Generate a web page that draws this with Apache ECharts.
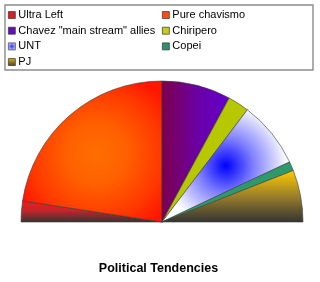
<!DOCTYPE html>
<html>
<head>
<meta charset="utf-8">
<script src="https://cdn.jsdelivr.net/npm/echarts@6/dist/echarts.min.js"></script>
<style>html,body{margin:0;padding:0;background:#fff;}#c{width:320px;height:282px;}</style>
</head>
<body>
<div id="c"></div>
<script>
var categories = ['Ultra Left', 'Pure chavismo', 'Chavez "main stream" allies', 'Chiripero', 'UNT', 'Copei', 'PJ'];
var values = [4.8, 45.2, 15.8, 4.9, 15.3, 2.1, 11.9];
var leftColumn = ['Ultra Left', 'Chavez "main stream" allies', 'UNT', 'PJ'];
var rightColumn = ['Pure chavismo', 'Chiripero', 'Copei'];
var titleText = 'Political Tendencies';

var G = echarts.graphic;
var fills = {
  'Ultra Left': new G.LinearGradient(0, 0, 0, 1, [{offset:0,color:'#e8201c'},{offset:0.45,color:'#c8242a'},{offset:1,color:'#333333'}]),
  'Pure chavismo': new G.RadialGradient(0.53, 0.52, 0.62, [{offset:0,color:'#ff6e00'},{offset:0.35,color:'#ff6000'},{offset:0.75,color:'#ff3800'},{offset:1,color:'#ff1600'}]),
  'Chavez "main stream" allies': new G.LinearGradient(0, 0, 1, 0, [{offset:0,color:'#7c004c'},{offset:0.55,color:'#6a00a8'},{offset:1,color:'#6400cc'}]),
  'Chiripero': '#b8c800',
  'UNT': new G.RadialGradient(0.5, 0.5, 0.55, [{offset:0,color:'#0000ff'},{offset:0.45,color:'#8080ff'},{offset:1,color:'#ffffff'}]),
  'Copei': '#2e9a6c',
  'PJ': new G.LinearGradient(0, 0, 0, 1, [{offset:0,color:'#ffcc00'},{offset:0.5,color:'#9a7e2a'},{offset:1,color:'#333333'}])
};
var iconColors = {
  'Ultra Left': '#d42026',
  'Pure chavismo': '#ff4a12',
  'Chavez "main stream" allies': '#6010b4',
  'Chiripero': '#c4cc22',
  'UNT': new G.RadialGradient(0.5, 0.5, 0.6, [{offset:0,color:'#3030ff'},{offset:1,color:'#e0e4ff'}]),
  'Copei': '#30906c',
  'PJ': new G.LinearGradient(0, 0, 0, 1, [{offset:0,color:'#e0b020'},{offset:1,color:'#504020'}])
};

var font = 'Arial, "Liberation Sans", sans-serif';
function legendFor(names, left) {
  return {
    orient: 'vertical', left: left, top: 7.2, padding: 0, itemGap: 0,
    itemWidth: 7, itemHeight: 7, icon: 'rect', selectedMode: false,
    textStyle: {fontFamily: font, fontSize: 11, color: '#000', lineHeight: 15.67, padding: [0, 0, 0, -2]},
    itemStyle: {borderColor: '#333', borderWidth: 0.7},
    data: names.map(function (n) { return {name: n, itemStyle: {color: iconColors[n]}}; })
  };
}

var chart = echarts.init(document.getElementById('c'), null, {renderer: 'canvas'});
chart.setOption({
  animation: false,
  legend: [legendFor(leftColumn, 8), legendFor(rightColumn, 162)],
  graphic: [
    {type: 'rect', shape: {x: 5, y: 5, width: 308, height: 65}, style: {fill: 'none', stroke: '#8c8c8c', lineWidth: 1.4}, z: 0},
    {type: 'text', style: {x: 158.5, y: 269, text: titleText, textAlign: 'center', textVerticalAlign: 'middle', fontFamily: font, fontSize: 12.5, fontWeight: 'bold', fill: '#000'}}
  ],
  series: [{
    type: 'pie',
    center: [162, 222],
    radius: [0, 141],
    startAngle: 180,
    endAngle: 0,
    clockwise: true,
    label: {show: false},
    labelLine: {show: false},
    emphasis: {disabled: true},
    itemStyle: {borderColor: '#3a3a3a', borderWidth: 0.6},
    data: categories.map(function (c, i) {
      return {name: c, value: values[i], itemStyle: {color: fills[c]}};
    })
  }]
});
</script>
</body>
</html>
